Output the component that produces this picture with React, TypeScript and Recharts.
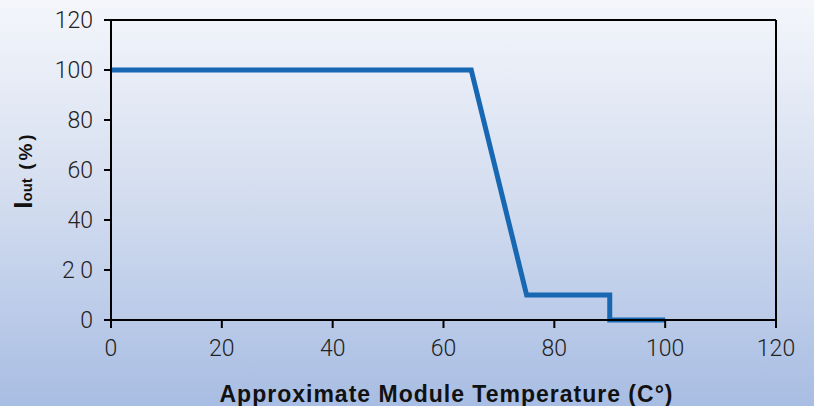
import React from 'react';
import { LineChart, Line, XAxis, YAxis, CartesianGrid, Label } from 'recharts';

const temperatures = [0, 65, 75, 90, 90, 100];
const outputPercent = [100, 100, 10, 10, 0, 0];
const xTicks = [0, 20, 40, 60, 80, 100, 120];
const yTicks = [0, 20, 40, 60, 80, 100, 120];
const yTickLabels = ['0', '2 0', '40', '60', '80', '100', '120'];

const data = temperatures.map((t, i) => ({ t, v: outputPercent[i] }));

const tickStyle = { fontFamily: 'Roboto, "Liberation Sans", Arial, sans-serif', fontWeight: 300, fontSize: 23, fill: '#222' };
const lineStyle = { stroke: '#000', strokeWidth: 2 };

const YTitle = (props: any) => {
  const vb = props.viewBox || { x: 0, y: 20, width: 111, height: 300 };
  const cx = vb.x + 32;
  const cy = vb.y + vb.height / 2;
  return (
    <text
      x={cx}
      y={cy}
      transform={`rotate(-90, ${cx}, ${cy})`}
      textAnchor="middle"
      fontFamily='"Liberation Sans", Arial, sans-serif'
      fontWeight="bold"
      fill="#111"
    >
      <tspan fontSize={26}>I</tspan>
      <tspan fontSize={15}>out</tspan>
      <tspan fontSize={19} letterSpacing={3}> (%)</tspan>
    </text>
  );
};

export default function App() {
  return (
    <div
      style={{
        position: 'absolute',
        left: 0,
        top: 0,
        width: 814,
        height: 406,
        background: 'linear-gradient(to bottom, #f4f6fb 0%, #d6dff0 45%, #a8bde3 100%)',
      }}
    >
      <LineChart width={814} height={406} data={data} margin={{ top: 20, right: 0, left: 0, bottom: 0 }}>
        <CartesianGrid horizontal vertical={false} stroke="#000" strokeWidth={2} strokeOpacity={1} />
        <XAxis
          dataKey="t"
          type="number"
          domain={[0, 120]}
          ticks={xTicks}
          height={86}
          axisLine={lineStyle}
          tickLine={lineStyle}
          tickSize={8}
          tickMargin={12}
          tick={tickStyle}
          interval={0}
        >
          <Label
            value="Approximate Module Temperature (C°)"
            position="insideBottom"
            offset={4}
            dx={3}
            style={{ fontFamily: '"Liberation Sans", Arial, sans-serif', fontWeight: 'bold', fontSize: 23, letterSpacing: 1, fill: '#111' }}
          />
        </XAxis>
        <YAxis
          yAxisId="l"
          type="number"
          domain={[0, 120]}
          ticks={yTicks}
          width={111}
          axisLine={lineStyle}
          tickLine={lineStyle}
          tickSize={7}
          tickMargin={11}
          tick={tickStyle}
          interval={0}
          tickFormatter={(v: number) => yTickLabels[yTicks.indexOf(v)] ?? String(v)}
          label={<YTitle />}
        />
        <YAxis
          yAxisId="r"
          orientation="right"
          type="number"
          domain={[0, 120]}
          ticks={[120]}
          width={38}
          axisLine={lineStyle}
          tickLine={lineStyle}
          tickSize={8}
          tickFormatter={() => ''}
        />
        <Line
          yAxisId="l"
          type="linear"
          dataKey="v"
          stroke="#1767b2"
          strokeWidth={5}
          dot={false}
          isAnimationActive={false}
          strokeLinejoin="miter"
          strokeLinecap="butt"
        />
      </LineChart>
    </div>
  );
}
